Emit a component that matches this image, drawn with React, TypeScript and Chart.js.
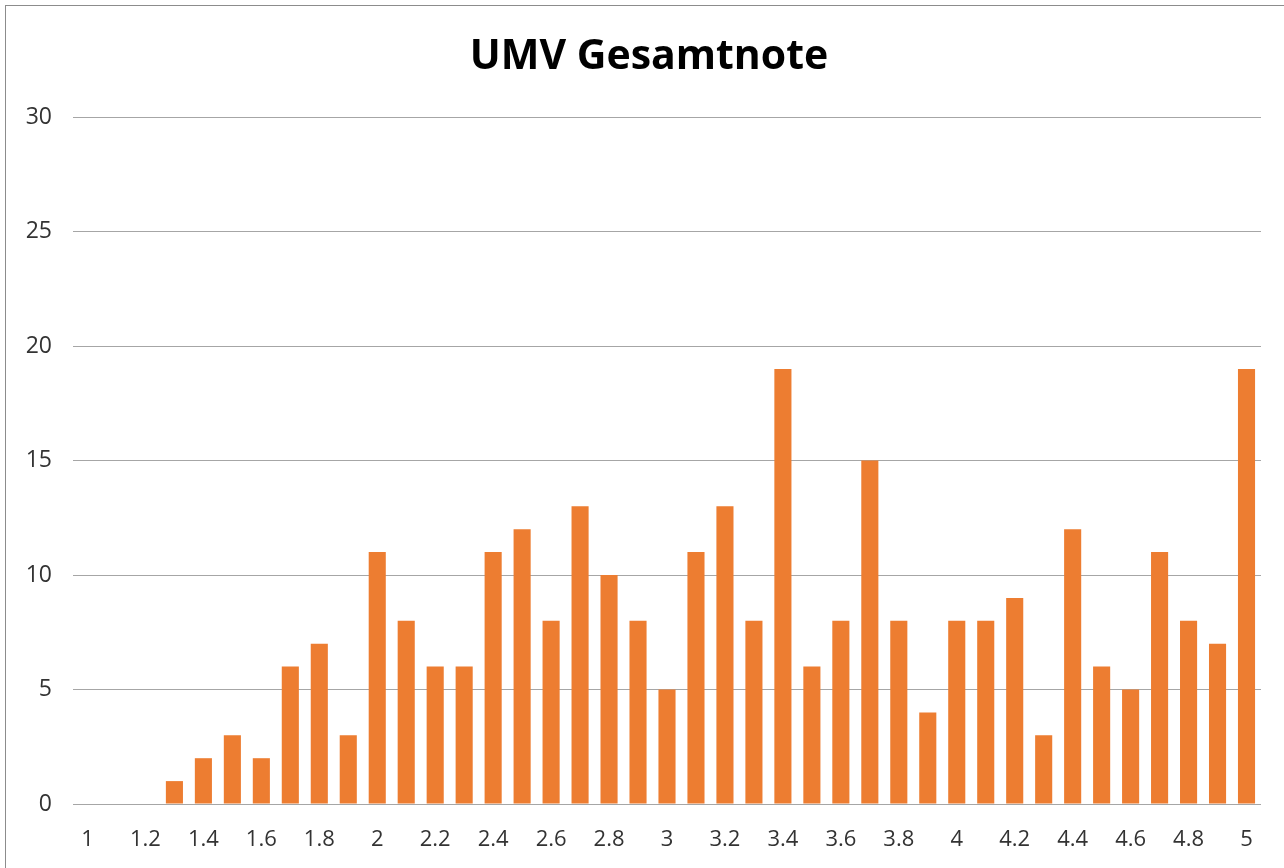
import React, { useEffect, useRef } from "react";
import { Chart, registerables } from "chart.js";

Chart.register(...registerables);

const categories: string[] = [
  "1", "1.1", "1.2", "1.3", "1.4", "1.5", "1.6", "1.7", "1.8", "1.9",
  "2", "2.1", "2.2", "2.3", "2.4", "2.5", "2.6", "2.7", "2.8", "2.9",
  "3", "3.1", "3.2", "3.3", "3.4", "3.5", "3.6", "3.7", "3.8", "3.9",
  "4", "4.1", "4.2", "4.3", "4.4", "4.5", "4.6", "4.7", "4.8", "4.9",
  "5",
];

const counts: number[] = [
  0, 0, 0, 1, 2, 3, 2, 6, 7, 3,
  11, 8, 6, 6, 11, 12, 8, 13, 10, 8,
  5, 11, 13, 8, 19, 6, 8, 15, 8, 4,
  8, 8, 9, 3, 12, 6, 5, 11, 8, 7,
  19,
];

const titleText = "UMV Gesamtnote";
const yMax = 30;
const yStep = 5;

const titlePlugin = {
  id: "customTitle",
  afterDraw(chart: any) {
    const ctx = chart.ctx;
    ctx.save();
    ctx.font = "bold 41px 'Open Sans', sans-serif";
    ctx.fillStyle = "#000000";
    ctx.textAlign = "center";
    ctx.textBaseline = "middle";
    ctx.fillText(titleText, 649, 57);
    ctx.restore();
  },
};

export default function App() {
  const canvasRef = useRef<HTMLCanvasElement | null>(null);

  useEffect(() => {
    if (!canvasRef.current) return;
    const chart = new Chart(canvasRef.current, {
      type: "bar",
      data: {
        labels: categories,
        datasets: [
          {
            data: counts,
            backgroundColor: "#ED7D31",
            borderWidth: 0,
            barPercentage: 0.59,
            categoryPercentage: 1,
          },
        ],
      },
      plugins: [titlePlugin],
      options: {
        animation: false,
        responsive: false,
        layout: { padding: { left: 0, top: 117, right: 23, bottom: 0 } },
        plugins: {
          legend: { display: false },
          title: { display: false },
          tooltip: { enabled: false },
        },
        scales: {
          x: {
            grid: { display: false, drawTicks: false },
            border: { display: false },
            ticks: {
              autoSkip: false,
              maxRotation: 0,
              minRotation: 0,
              padding: 23,
              color: "#333333",
              font: { family: "'Open Sans', sans-serif", size: 22 },
              callback: (_v: any, i: number) => (i % 2 === 0 ? categories[i] : ""),
            },
            afterFit: (scale: any) => {
              scale.height = 64;
            },
          },
          y: {
            min: 0,
            max: yMax,
            grid: { color: "#A6A6A6", lineWidth: 1, drawTicks: false },
            border: { display: false },
            ticks: {
              stepSize: yStep,
              padding: 21,
              color: "#333333",
              font: { family: "'Open Sans', sans-serif", size: 23 },
            },
            afterFit: (scale: any) => {
              scale.width = 73;
            },
          },
        },
      },
    });
    return () => chart.destroy();
  }, []);

  return (
    <div style={{ position: "absolute", left: 0, top: 0, width: 1284, height: 868, overflow: "hidden", background: "#fff" }}>
      <div
        style={{
          position: "absolute",
          left: 5,
          top: 5,
          width: 1400,
          height: 1000,
          border: "1.5px solid #8c8c8c",
          boxSizing: "border-box",
        }}
      />
      <canvas ref={canvasRef} width={1284} height={868} style={{ position: "absolute", left: 0, top: 0 }} />
    </div>
  );
}
